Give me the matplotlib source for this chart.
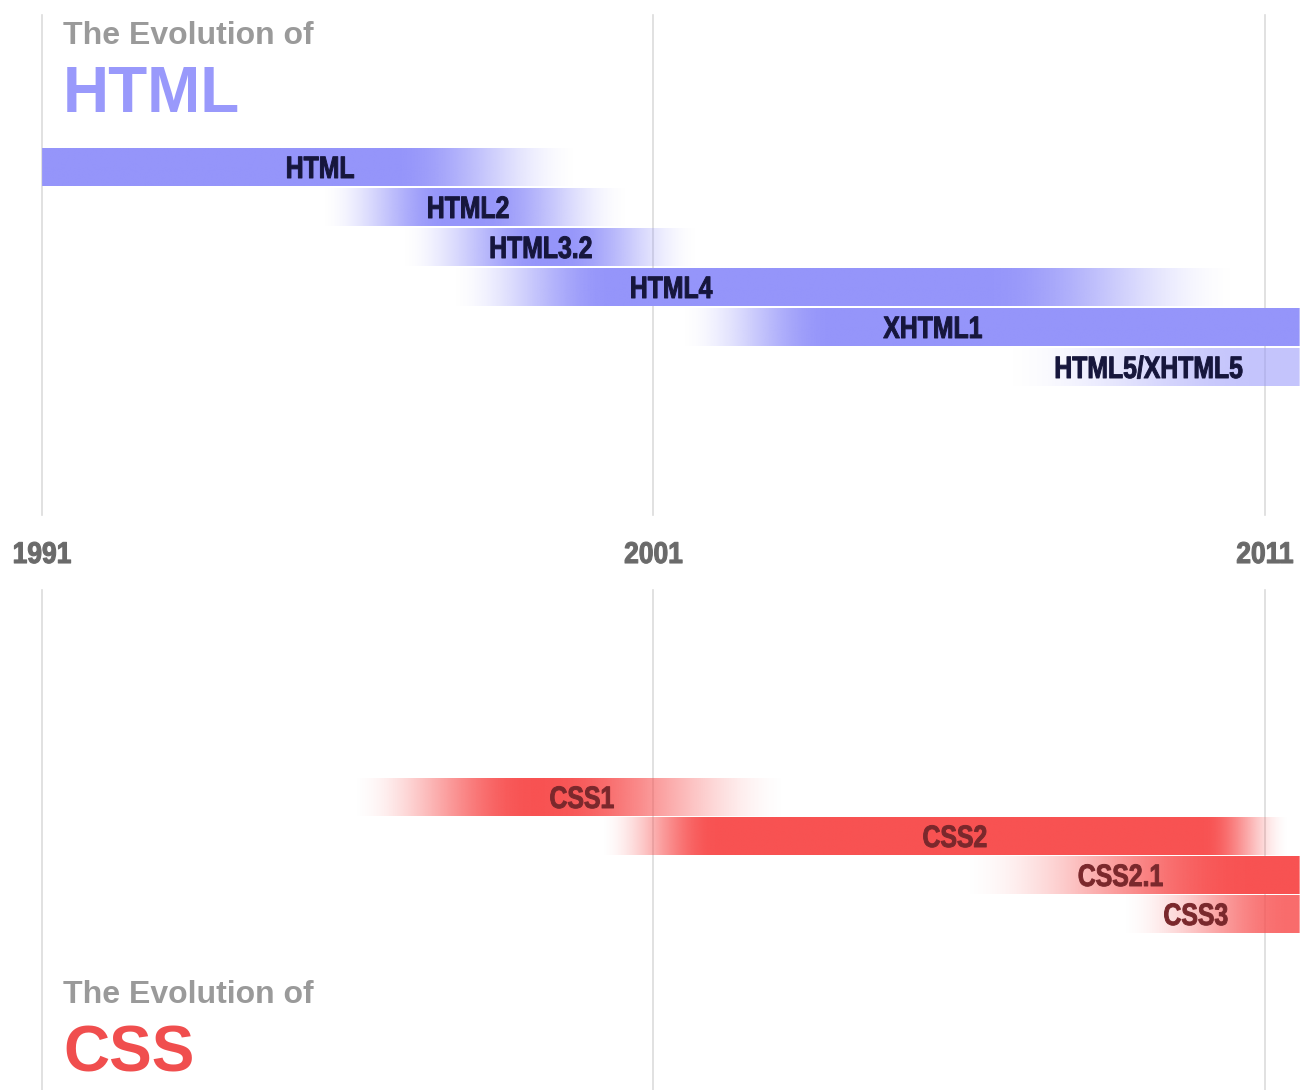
import numpy as np
import matplotlib
matplotlib.use("Agg")
import matplotlib.pyplot as plt
from matplotlib.colors import to_rgb
from matplotlib.patheffects import AbstractPathEffect
from matplotlib.transforms import Affine2D

# ---------------- data ----------------
years_ticks = [1991, 2001, 2011]

html_names = ["HTML", "HTML2", "HTML3.2", "HTML4", "XHTML1", "HTML5/XHTML5"]
html_fade_in = [1991.0, 1995.55, 1996.85, 1997.67, 2001.43, 2006.67]
html_full_from = [1991.0, 1997.59, 1999.14, 2000.29, 2003.89, 2010.84]
html_full_to = [1996.77, 1998.16, 1999.47, 2006.42, 2011.57, 2011.57]
html_fade_out = [1999.80, 2000.62, 2001.76, 2010.59, 2011.57, 2011.57]
html_peak = [1.0, 1.0, 1.0, 1.0, 1.0, 0.55]
html_label_at = [1995.55, 1997.97, 1999.16, 2001.29, 2005.57, 2009.10]

css_names = ["CSS1", "CSS2", "CSS2.1", "CSS3"]
css_fade_in = [1996.04, 2000.12, 2006.01, 2008.63]
css_full_from = [1998.98, 2002.00, 2010.67, 2011.41]
css_full_to = [1999.23, 2010.02, 2011.57, 2011.57]
css_fade_out = [2003.23, 2011.41, 2011.57, 2011.57]
css_peak = [1.0, 1.0, 1.0, 0.85]
css_label_at = [1999.83, 2005.93, 2008.64, 2009.87]

HTML_COLOR = "#9595fa"
CSS_COLOR = "#f85252"
HTML_TEXT = "#16163c"
CSS_TEXT = "#7a282c"

# ---------------- figure ----------------
W, H = 1309, 1090
DPI = 100
fig = plt.figure(figsize=(W / DPI, H / DPI), dpi=DPI)
ax = fig.add_axes([0, 0, 1, 1])
px_per_year = (1265 - 42) / 20.0
x_left = 1991 - 42 / px_per_year
x_right = 1991 + (W - 42) / px_per_year
ax.set_xlim(x_left, x_right)
ax.set_ylim(H, 0)
ax.axis("off")

sans = ["Liberation Sans", "DejaVu Sans"]


class Condense(AbstractPathEffect):
    """Squeeze glyphs horizontally about a display x position, with a thin stroke."""

    def __init__(self, cx, sx, stroke, color):
        super().__init__()
        self.cx, self.sx, self.stroke, self.color = cx, sx, stroke, color

    def draw_path(self, renderer, gc, tpath, affine, rgbFace=None):
        aff = affine + Affine2D().translate(-self.cx, 0).scale(self.sx, 1).translate(self.cx, 0)
        gc0 = renderer.new_gc()
        gc0.copy_properties(gc)
        gc0.set_linewidth(self.stroke)
        gc0.set_foreground(self.color)
        renderer.draw_path(gc0, tpath, aff, rgbFace)
        gc0.restore()


def cond_text(x, y, s, size, sx, color, stroke=0.8, z=3):
    cx = ax.transData.transform((x, y))[0]
    ax.text(x, y, s, ha="center", va="center", fontsize=size, fontweight="bold",
            color=color, family=sans, zorder=z,
            path_effects=[Condense(cx, sx, stroke, color)])


# grid lines + year labels
for yr in years_ticks:
    ax.plot([yr, yr], [15, 515], color="#dcdcdc", lw=1.2, zorder=0)
    ax.plot([yr, yr], [590, 1090], color="#dcdcdc", lw=1.2, zorder=0)
    cond_text(yr, 555, str(yr), 21.6, 0.88, "#6a6a6a", stroke=0.8)


def smooth(t):
    t = np.clip(t, 0, 1)
    return t * t * (3 - 2 * t)


def draw_bars(names, fin, ffrom, fto, fout, peak, lab, top0, pitch, height, color, tcolor):
    rgb = to_rgb(color)
    xs = np.linspace(x_left, x_right, 1400)
    for i, name in enumerate(names):
        rise = np.where(ffrom[i] > fin[i], (xs - fin[i]) / max(ffrom[i] - fin[i], 1e-6), 1.0)
        fall = np.where(fout[i] > fto[i], (fout[i] - xs) / max(fout[i] - fto[i], 1e-6), 1.0)
        a = np.minimum(smooth(rise), smooth(fall))
        a[(xs < fin[i])] = 0
        a[(xs > max(fout[i], fto[i]))] = 0
        a *= peak[i]
        img = np.zeros((1, len(xs), 4))
        img[..., 0], img[..., 1], img[..., 2] = rgb
        img[0, :, 3] = a
        top = top0 + pitch * i
        ax.imshow(img, extent=(x_left, x_right, top + height, top), aspect="auto",
                  interpolation="bilinear", zorder=2)
        cond_text(lab[i], top + height / 2 + 3, name, 22.3, 0.8, tcolor, stroke=0.7)


draw_bars(html_names, html_fade_in, html_full_from, html_full_to, html_fade_out,
          html_peak, html_label_at, 148, 40, 38, HTML_COLOR, HTML_TEXT)
draw_bars(css_names, css_fade_in, css_full_from, css_full_to, css_fade_out,
          css_peak, css_label_at, 778, 39, 38, CSS_COLOR, CSS_TEXT)

# titles
xt = 1991 + (63 - 42) / px_per_year
ax.text(xt, 44, "The Evolution of", ha="left", va="baseline", fontsize=23,
        fontweight="bold", color="#9a9a9a", family=sans)
ax.text(xt, 112, "HTML", ha="left", va="baseline", fontsize=46,
        fontweight="bold", color="#9999fb", family=sans)
ax.text(xt, 1003, "The Evolution of", ha="left", va="baseline", fontsize=23,
        fontweight="bold", color="#9a9a9a", family=sans)
ax.text(xt, 1072, "CSS", ha="left", va="baseline", fontsize=46,
        fontweight="bold", color="#f04e4e", family=sans)

ax.set_xlim(x_left, x_right)
ax.set_ylim(H, 0)
fig.savefig("out.png", dpi=DPI, facecolor="white")
